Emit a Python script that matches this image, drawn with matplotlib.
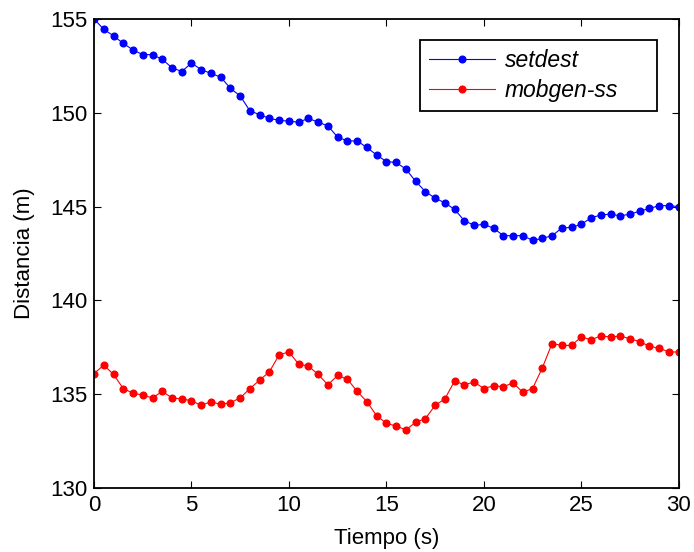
import numpy as np
import matplotlib
matplotlib.use('Agg')
import matplotlib.pyplot as plt

plt.rcParams['font.family'] = ['Liberation Sans', 'DejaVu Sans']

# Time axis (s), sampled every 0.5 s
tiempo = np.arange(0, 30.01, 0.5)

setdest = [155.0, 154.45, 154.1, 153.7, 153.35, 153.1, 153.1, 152.85, 152.4, 152.2,
           152.65, 152.3, 152.1, 151.9, 151.3, 150.9, 150.1, 149.9, 149.7, 149.6,
           149.55, 149.5, 149.7, 149.5, 149.3, 148.7, 148.5, 148.5, 148.15, 147.75,
           147.4, 147.35, 147.0, 146.35, 145.8, 145.45, 145.2, 144.85, 144.25, 144.0,
           144.05, 143.85, 143.45, 143.45, 143.45, 143.2, 143.3, 143.45, 143.85, 143.9,
           144.05, 144.4, 144.55, 144.6, 144.5, 144.6, 144.75, 144.9, 145.05, 145.05,
           145.0]

mobgen_ss = [136.1, 136.55, 136.05, 135.3, 135.05, 134.95, 134.8, 135.15, 134.8, 134.75,
             134.65, 134.4, 134.6, 134.45, 134.55, 134.8, 135.3, 135.75, 136.2, 137.1,
             137.25, 136.6, 136.5, 136.05, 135.5, 136.0, 135.8, 135.15, 134.6, 133.85,
             133.45, 133.3, 133.1, 133.5, 133.7, 134.4, 134.75, 135.7, 135.5, 135.65,
             135.3, 135.45, 135.4, 135.6, 135.1, 135.3, 136.4, 137.7, 137.6, 137.6,
             138.05, 137.9, 138.1, 138.05, 138.1, 137.95, 137.8, 137.55, 137.45, 137.25,
             137.25]

fig = plt.figure(figsize=(6.94, 5.52), dpi=100)
ax = fig.add_axes([0.1355, 0.116, 0.8425, 0.8496])

ax.plot(tiempo, setdest, '-o', color='#0000ff', lw=0.8, ms=4.8, label='setdest')
ax.plot(tiempo, mobgen_ss, '-o', color='#ff0000', lw=0.8, ms=4.8, label='mobgen-ss')

ax.set_xlim(0, 30)
ax.set_ylim(130, 155)
ax.set_xticks(range(0, 31, 5))
ax.set_yticks(range(130, 156, 5))
ax.tick_params(direction='in', labelsize=16, length=5, width=0.8, top=True, right=True, pad=5)
for s in ax.spines.values():
    s.set_linewidth(1.3)

ax.set_xlabel('Tiempo (s)', fontsize=16, labelpad=9)
ax.set_ylabel('Distancia (m)', fontsize=16, labelpad=11)

leg = ax.legend(loc='upper left', bbox_to_anchor=(0.557, 0.955, 0.405, 0.0),
                mode='expand', borderaxespad=0,
                fancybox=False, edgecolor='black', framealpha=1,
                handlelength=2.9, handletextpad=0.4, labelspacing=0.3,
                prop={'style': 'italic', 'size': 16.5})
leg.get_frame().set_linewidth(1.3)

fig.savefig('out.png', dpi=100)
